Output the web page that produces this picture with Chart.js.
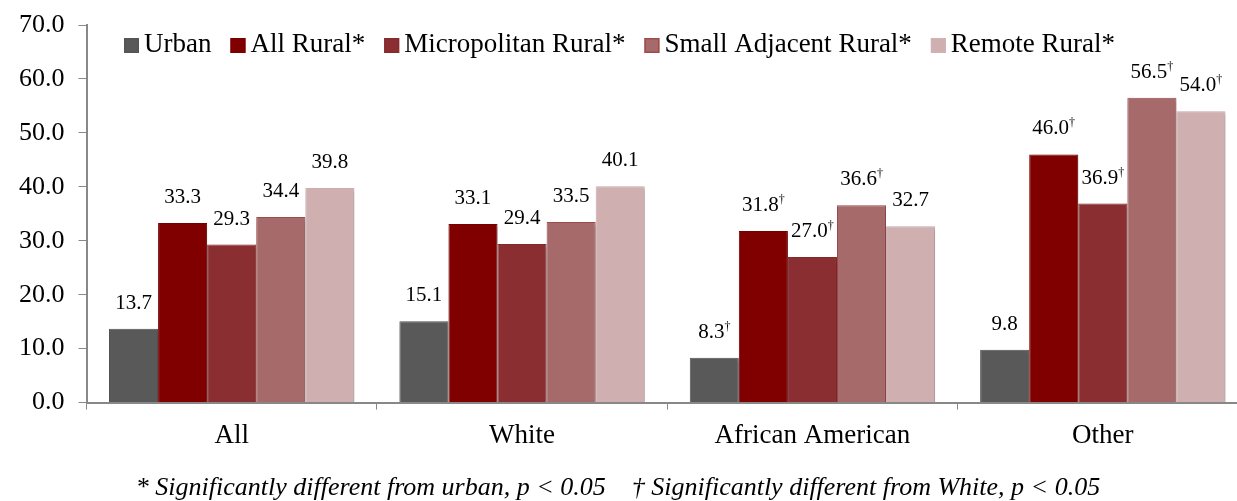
<!DOCTYPE html>
<html>
<head>
<meta charset="utf-8">
<script src="https://cdn.jsdelivr.net/npm/chart.js@4"></script>
<style>
  html, body { margin: 0; padding: 0; background: #fff; overflow: hidden; }
  #wrap { width: 1248px; height: 501px; }
</style>
</head>
<body>
<div id="wrap"><canvas id="myChart"></canvas></div>
<script>
// categories and values
const categories = ['All', 'White', 'African American', 'Other'];
const seriesNames = ['Urban', 'All Rural*', 'Micropolitan Rural*', 'Small Adjacent Rural*', 'Remote Rural*'];
const urban = [13.7, 15.1, 8.3, 9.8];
const allRural = [33.3, 33.1, 31.8, 46.0];
const micropolitan = [29.3, 29.4, 27.0, 36.9];
const smallAdjacent = [34.4, 33.5, 36.6, 56.5];
const remote = [39.8, 40.1, 32.7, 54.0];
// dagger = significantly different from White
const urbanDagger = [false, false, true, false];
const allRuralDagger = [false, false, true, true];
const micropolitanDagger = [false, false, true, true];
const smallAdjacentDagger = [false, false, true, true];
const remoteDagger = [false, false, false, true];
const yTicks = [0, 10, 20, 30, 40, 50, 60, 70];
const footnote = '* Significantly different from urban, p < 0.05    \u2020 Significantly different from White, p < 0.05';

const fills = ['#595959', '#800000', '#8b2e31', '#a66a6a', '#d0afb1'];
const borders = ['#555555', '#7a0000', '#862a2d', '#a04c4c', '#d0b2b4'];

const values = [urban, allRural, micropolitan, smallAdjacent, remote];
const daggers = [urbanDagger, allRuralDagger, micropolitanDagger, smallAdjacentDagger, remoteDagger];

// draws the numbers (with a small dagger) above each bar
const valueLabels = {
    id: 'valueLabels',
    afterDatasetsDraw(chart) {
        const ctx = chart.ctx;
        ctx.save();
        ctx.fillStyle = '#000';
        ctx.textBaseline = 'alphabetic';
        chart.data.datasets.forEach(function(ds, i) {
            const meta = chart.getDatasetMeta(i);
            meta.data.forEach(function(bar, j) {
                const txt = ds.data[j].toFixed(1);
                ctx.font = '21px "Liberation Serif"';
                const w1 = ctx.measureText(txt).width;
                let w2 = 0;
                if (daggers[i][j]) {
                    ctx.font = '12px "Liberation Serif"';
                    w2 = ctx.measureText('\u2020').width;
                }
                const x0 = bar.x - (w1 + w2) / 2;
                const y0 = bar.y - 20;
                ctx.font = '21px "Liberation Serif"';
                ctx.textAlign = 'left';
                ctx.fillText(txt, x0, y0);
                if (daggers[i][j]) {
                    ctx.font = '12px "Liberation Serif"';
                    ctx.fillText('\u2020', x0 + w1, y0 - 8);
                }
            });
        });
        ctx.restore();
    }
};

// one-row legend drawn inside the plot + the footnote under the chart
const rowLegend = {
    id: 'rowLegend',
    afterDraw(chart) {
        const ctx = chart.ctx;
        const y = 45;
        let x = 124;
        ctx.save();
        ctx.font = '27px "Liberation Serif"';
        ctx.textBaseline = 'middle';
        ctx.textAlign = 'left';
        chart.data.datasets.forEach(function(ds) {
            ctx.fillStyle = ds.backgroundColor;
            ctx.fillRect(x, y - 7, 15, 15);
            ctx.strokeStyle = ds.borderColor;
            ctx.lineWidth = 1.5;
            ctx.strokeRect(x + 0.75, y - 6.25, 13.5, 13.5);
            ctx.fillStyle = '#000';
            ctx.fillText(ds.label, x + 20, y);
            x += 20 + ctx.measureText(ds.label).width + 19;
        });
        ctx.font = 'italic 26px "Liberation Serif"';
        ctx.textAlign = 'center';
        ctx.fillText(footnote, 618, 488);
        ctx.restore();
    }
};

// soft shadow behind the bars
const barShadow = {
    id: 'barShadow',
    beforeDatasetsDraw(chart) {
        const ctx = chart.ctx;
        ctx.save();
        ctx.shadowColor = 'rgba(0,0,0,0.25)';
        ctx.shadowBlur = 4;
        ctx.shadowOffsetX = 2;
        ctx.shadowOffsetY = 2;
    },
    afterDatasetsDraw(chart) {
        chart.ctx.restore();
    }
};

const ctx = document.getElementById('myChart').getContext('2d');
new Chart(ctx, {
    type: 'bar',
    data: {
        labels: categories,
        datasets: values.map(function(v, i) {
            return {
                label: seriesNames[i],
                data: v,
                backgroundColor: fills[i],
                borderColor: borders[i],
                borderWidth: 1,
                categoryPercentage: 0.845,
                barPercentage: 1.0
            };
        })
    },
    options: {
        responsive: true,
        maintainAspectRatio: false,
        animation: false,
        layout: {
            padding: { left: 5, right: 0, top: 1, bottom: 39 }
        },
        scales: {
            x: {
                grid: { display: true, drawOnChartArea: false, drawTicks: true, tickLength: 7, color: '#888', offset: true },
                border: { color: '#888', width: 2 },
                ticks: {
                    color: '#000',
                    padding: 10,
                    font: { family: '"Liberation Serif"', size: 27 }
                }
            },
            y: {
                min: 0,
                max: 70,
                afterBuildTicks: function(axis) {
                    axis.ticks = yTicks.map(function(v) { return { value: v }; });
                },
                grid: { display: true, drawOnChartArea: false, drawTicks: true, tickLength: 8, color: '#888' },
                border: { color: '#888', width: 2 },
                ticks: {
                    color: '#000',
                    padding: 14,
                    font: { family: '"Liberation Serif"', size: 26, lineHeight: 0.85 },
                    callback: function(v) { return Number(v).toFixed(1); }
                }
            }
        },
        plugins: {
            legend: { display: false },
            title: { display: false },
            tooltip: { enabled: false }
        }
    },
    plugins: [barShadow, valueLabels, rowLegend]
});
</script>
</body>
</html>
